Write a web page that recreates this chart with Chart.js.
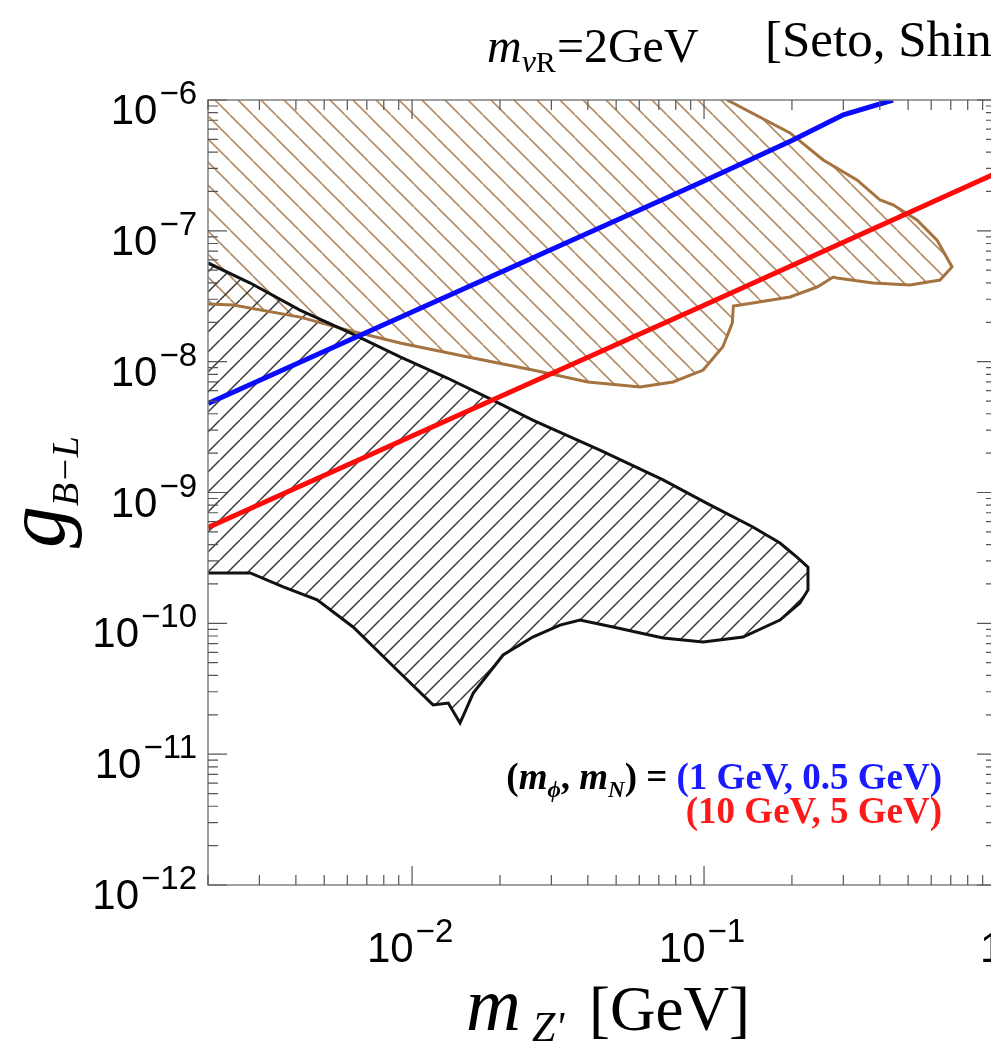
<!DOCTYPE html>
<html>
<head>
<meta charset="utf-8">
<script src="https://cdn.jsdelivr.net/npm/chart.js@4.4.1/dist/chart.umd.min.js"></script>
<style>
  html, body { margin: 0; padding: 0; background: #fff; overflow: hidden; }
  #wrap { width: 1100px; height: 1043px; }
</style>
</head>
<body>
<div id="wrap"><canvas id="myChart" width="1100" height="1043"></canvas></div>
<script>
// axis ranges (log-log)
const xRange = [0.002, 1];
const yRange = [1e-12, 1e-6];

// tick labels: 10^exp
const xTickValues = [0.01, 0.1, 1];
const xTickExps = ['\u22122', '\u22121', '0'];
const yTickValues = [1e-6, 1e-7, 1e-8, 1e-9, 1e-10, 1e-11, 1e-12];
const yTickExps = ['\u22126', '\u22127', '\u22128', '\u22129', '\u221210', '\u221211', '\u221212'];

// brown hatched region (closed polygon, first/last points on the frame)
const brownX = [0.002, 0.120, 0.197, 0.256, 0.334, 0.401, 0.444, 0.536, 0.628, 0.707, 0.643, 0.507, 0.379, 0.285,
  0.277, 0.244, 0.197, 0.133, 0.126, 0.125, 0.116, 0.0993, 0.0783, 0.0604, 0.040, 0.0259, 0.0154, 0.0091, 0.00598,
  0.00413, 0.00244, 0.002, 0.002];
const brownY = [1e-6, 1e-6, 5.6e-7, 3.48e-7, 2.45e-7, 1.72e-7, 1.58e-7, 1.21e-7, 8.5e-8, 5.3e-8, 4.21e-8, 3.86e-8, 3.99e-8, 4.36e-8,
  4.43e-8, 3.72e-8, 3.12e-8, 2.71e-8, 2.66e-8, 1.98e-8, 1.30e-8, 8.63e-9, 7.0e-9, 6.4e-9, 7.0e-9, 8.63e-9, 1.09e-8, 1.39e-8, 1.75e-8,
  2.19e-8, 2.71e-8, 2.76e-8, 1e-6];

// black hatched region (closed polygon)
const blackX = [0.002, 0.00279, 0.00413, 0.00614, 0.0091, 0.0132, 0.0189, 0.0259, 0.0440, 0.0724, 0.102, 0.147, 0.182, 0.208,
  0.227, 0.227, 0.213, 0.182, 0.136, 0.0993, 0.0724, 0.0488, 0.0376, 0.0321, 0.0259, 0.0205, 0.0162, 0.0146, 0.0133, 0.0118,
  0.0091, 0.00628, 0.00473, 0.00362, 0.00279, 0.002, 0.002];
const blackY = [5.68e-8, 3.99e-8, 2.48e-8, 1.66e-8, 1.09e-8, 7.5e-9, 5.09e-9, 3.58e-9, 2.11e-9, 1.25e-9, 8.3e-10, 5.45e-10, 4.11e-10, 3.21e-10,
  2.69e-10, 1.80e-10, 1.43e-10, 1.06e-10, 7.85e-11, 7.19e-11, 7.72e-11, 9.38e-11, 1.06e-10, 9.7e-11, 7.85e-11, 5.73e-11, 2.93e-11, 1.73e-11, 2.46e-11, 2.38e-11,
  4.17e-11, 9.38e-11, 1.51e-10, 1.90e-10, 2.43e-10, 2.43e-10, 5.68e-8];

// (m_phi, m_N) = (1 GeV, 0.5 GeV)
const blueX = [0.002, 0.01, 0.1, 0.2, 0.3, 0.444];
const blueY = [4.8e-9, 2.4e-8, 2.4e-7, 4.9e-7, 7.7e-7, 1e-6];

// (m_phi, m_N) = (10 GeV, 5 GeV)
const redX = [0.002, 0.01, 0.1, 1];
const redY = [5.4e-10, 2.7e-9, 2.7e-8, 2.75e-7];

const BROWN = '#a5733f';
const BROWN_HATCH = '#b38d66';

function pts(xs, ys) {
  return xs.map((x, i) => ({ x: x, y: ys[i] }));
}

// diagonal hatch pattern
function hatch(period, color, width, dir) {
  const c = document.createElement('canvas');
  c.width = period; c.height = period;
  const g = c.getContext('2d');
  g.strokeStyle = color;
  g.lineWidth = width;
  g.beginPath();
  for (let k = -1; k <= 1; k++) {
    if (dir === 'down') {
      g.moveTo(k * period, 0); g.lineTo(k * period + period, period);
    } else {
      g.moveTo(k * period, period); g.lineTo(k * period + period, 0);
    }
  }
  g.stroke();
  return g.createPattern(c, 'repeat');
}

// draw runs of text, each with its own font/colour/shift
function drawRuns(ctx, runs, x, y, align) {
  let total = 0;
  runs.forEach(r => { ctx.font = r.font; r.w = ctx.measureText(r.text).width; total += r.w + (r.gap || 0); });
  let cx = align === 'right' ? x - total : align === 'center' ? x - total / 2 : x;
  runs.forEach(r => {
    ctx.font = r.font;
    ctx.fillStyle = r.color || '#000';
    ctx.fillText(r.text, cx, y + (r.dy || 0));
    cx += r.w + (r.gap || 0);
  });
}

function powRuns(exp) {
  return [
    { text: '10', font: '42px "Liberation Sans", Arial, sans-serif', gap: 2 },
    { text: exp, font: '33px "Liberation Sans", Arial, sans-serif', dy: -20 }
  ];
}

const framePlugin = {
  id: 'frame',
  afterDraw(chart) {
    const ctx = chart.ctx;
    const a = chart.chartArea;
    const xs = chart.scales.x, ys = chart.scales.y;
    ctx.save();
    ctx.textBaseline = 'alphabetic';

    // frame
    ctx.strokeStyle = '#808080';
    ctx.lineWidth = 1.5;
    ctx.strokeRect(a.left, a.top, a.right - a.left, a.bottom - a.top);

    // inward ticks
    ctx.strokeStyle = '#555';
    ctx.lineWidth = 1.2;
    ctx.beginPath();
    for (let e = -3; e <= 0; e++) {
      for (let m = 1; m <= 9; m++) {
        const v = m * Math.pow(10, e);
        if (v < xRange[0] * 0.999 || v > xRange[1] * 1.001) continue;
        const px = xs.getPixelForValue(v);
        const len = m === 1 ? 19 : 10;
        ctx.moveTo(px, a.bottom); ctx.lineTo(px, a.bottom - len);
        ctx.moveTo(px, a.top); ctx.lineTo(px, a.top + len);
      }
    }
    for (let e = -12; e <= -6; e++) {
      for (let m = 1; m <= 9; m++) {
        const v = m * Math.pow(10, e);
        if (v < yRange[0] * 0.999 || v > yRange[1] * 1.001) continue;
        const py = ys.getPixelForValue(v);
        const len = m === 1 ? 19 : 10;
        ctx.moveTo(a.left, py); ctx.lineTo(a.left + len, py);
        ctx.moveTo(a.right, py); ctx.lineTo(a.right - len, py);
      }
    }
    ctx.stroke();

    // tick labels (the last x label is cut off by the page edge)
    xTickValues.forEach((v, i) => {
      const px = xs.getPixelForValue(v);
      if (i === xTickValues.length - 1) {
        drawRuns(ctx, powRuns(xTickExps[i]), px - 16, a.bottom + 77, 'left');
      } else {
        drawRuns(ctx, powRuns(xTickExps[i]), px - 2, a.bottom + 77, 'center');
      }
    });
    yTickValues.forEach((v, i) => {
      drawRuns(ctx, powRuns(yTickExps[i]), 197, ys.getPixelForValue(v) + 24, 'right');
    });

    const serif = '"Liberation Serif", "Times New Roman", serif';

    // top title
    drawRuns(ctx, [
      { text: 'm', font: 'italic 48px ' + serif },
      { text: '\u03bd', font: 'italic 32px ' + serif, dy: 10 },
      { text: 'R', font: '30px ' + serif, dy: 10, gap: 1 },
      { text: '=2GeV', font: '48px ' + serif }
    ], 487, 62, 'left');
    drawRuns(ctx, [{ text: '[Seto, Shin', font: '51px ' + serif }], 765, 56, 'left');

    // y-axis title
    ctx.save();
    ctx.translate(64, 548);
    ctx.rotate(-Math.PI / 2);
    drawRuns(ctx, [
      { text: 'g', font: 'italic 84px ' + serif },
      { text: 'B\u2212L', font: 'italic 38px ' + serif, dy: 14 }
    ], 0, 0, 'left');
    ctx.restore();

    // x-axis title
    drawRuns(ctx, [{ text: 'm', font: 'italic 76px ' + serif }], 466, 1030, 'left');
    drawRuns(ctx, [{ text: "Z'", font: 'italic 42px ' + serif }], 532, 1041, 'left');
    drawRuns(ctx, [{ text: '[GeV]', font: '63px ' + serif }], 589, 1030, 'left');

    // legend annotation
    const b = 'bold 37px ' + serif, bi = 'italic bold 37px ' + serif, bs = 'italic bold 23px ' + serif;
    drawRuns(ctx, [
      { text: '(', font: b },
      { text: 'm', font: bi },
      { text: '\u03d5', font: bs, dy: 8 },
      { text: ', ', font: b },
      { text: 'm', font: bi },
      { text: 'N', font: bs, dy: 8 },
      { text: ') = ', font: b },
      { text: '(1 GeV, 0.5 GeV)', font: b, color: '#1a1aff' }
    ], 942, 789, 'right');
    drawRuns(ctx, [{ text: '(10 GeV, 5 GeV)', font: b, color: '#ff1a1a' }], 942, 823, 'right');

    ctx.restore();
  }
};

const ctx = document.getElementById('myChart').getContext('2d');
const brownPoly = pts(brownX, brownY);
const blackPoly = pts(blackX, blackY);

const chart = new Chart(ctx, {
  type: 'scatter',
  data: {
    datasets: [
      { label: 'blue', data: pts(blueX, blueY), showLine: true, borderColor: '#0a0aff', borderWidth: 5, pointRadius: 0, order: 0 },
      { label: 'red', data: pts(redX, redY), showLine: true, borderColor: '#ff0a0a', borderWidth: 5, pointRadius: 0, order: 1 },
      // outlines (without the edges that lie on the frame)
      { label: 'black edge', data: blackPoly.slice(0, -1), showLine: true, borderColor: '#111', borderWidth: 3, pointRadius: 0, order: 2 },
      { label: 'brown edge', data: brownPoly.slice(1, -1), showLine: true, borderColor: BROWN, borderWidth: 3, pointRadius: 0, order: 3 },
      // hatched fills
      {
        label: 'black region', data: blackPoly, showLine: true, fill: 'shape',
        backgroundColor: hatch(20, '#3a3a3a', 1.5, 'up'),
        borderColor: 'rgba(0,0,0,0)', borderWidth: 0, pointRadius: 0, order: 4
      },
      {
        label: 'brown region', data: brownPoly, showLine: true, fill: 'shape',
        backgroundColor: hatch(23, BROWN_HATCH, 1.6, 'down'),
        borderColor: 'rgba(0,0,0,0)', borderWidth: 0, pointRadius: 0, order: 5
      }
    ]
  },
  options: {
    responsive: false,
    animation: false,
    layout: { padding: { left: 208, top: 100, right: 104, bottom: 158 } },
    plugins: { legend: { display: false }, tooltip: { enabled: false } },
    scales: {
      x: { type: 'logarithmic', min: xRange[0], max: xRange[1], display: false },
      y: { type: 'logarithmic', min: yRange[0], max: yRange[1], display: false }
    }
  },
  plugins: [framePlugin]
});
</script>
</body>
</html>
